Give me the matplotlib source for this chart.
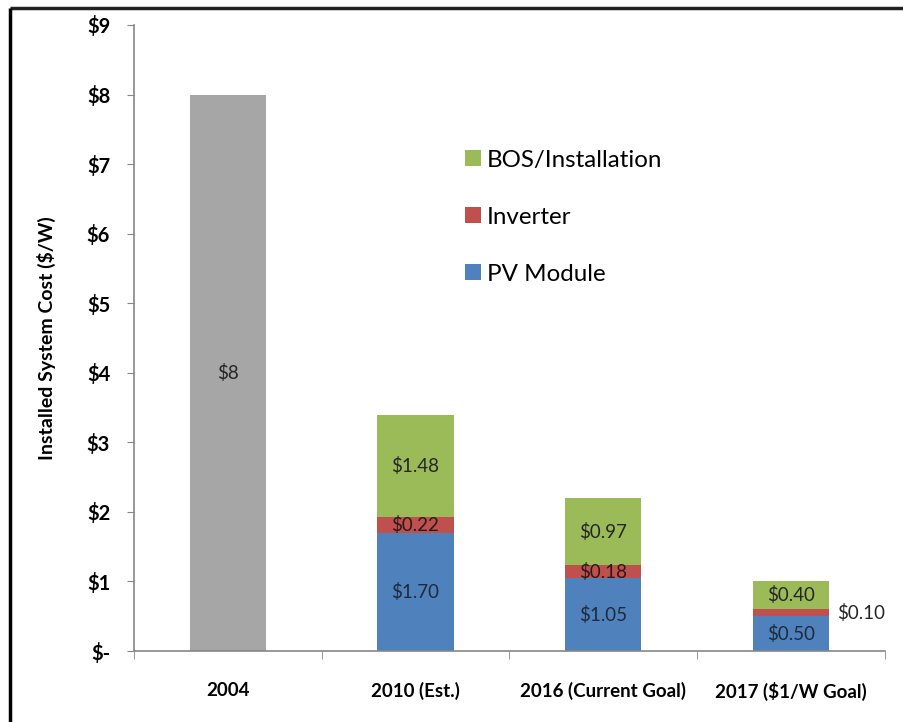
import numpy as np
import matplotlib.pyplot as plt
from matplotlib.lines import Line2D

plt.rcParams['font.family'] = ['Lato', 'DejaVu Sans']

# Datos del gráfico
categorias = ['2004', '2010 (Est.)', '2016 (Current Goal)', '2017 ($1/W Goal)']
total_2004 = [8, 0, 0, 0]
pv_module = [0, 1.70, 1.05, 0.50]
inverter = [0, 0.22, 0.18, 0.10]
bos = [0, 1.48, 0.97, 0.40]
etiquetas_yticks = ['$-', '$1', '$2', '$3', '$4', '$5', '$6', '$7', '$8', '$9']

gris = '#A6A6A6'
azul = '#4F81BD'
rojo = '#C0504D'
verde = '#9BBB59'
eje = '#868686'

fig = plt.figure(figsize=(9.04, 7.22), dpi=100)
ax = fig.add_axes([0.148, 0.0983, 0.831, 0.8671])

x = np.arange(len(categorias))
ancho = 0.405
pv = np.array(pv_module)
inv = np.array(inverter)
bo = np.array(bos)

# Barra gris de 2004 (solo la primera categoría)
ax.bar(x[:1], total_2004[:1], ancho, color=gris)
b_pv = ax.bar(x[1:], pv[1:], ancho, color=azul, label='PV Module')
b_inv = ax.bar(x[1:], inv[1:], ancho, bottom=pv[1:], color=rojo, label='Inverter')
b_bos = ax.bar(x[1:], bo[1:], ancho, bottom=pv[1:] + inv[1:], color=verde,
               label='BOS/Installation')

# Etiquetas de datos
fs = 13.5
ax.text(x[0], total_2004[0] / 2, '$%d' % total_2004[0], ha='center', va='center',
        fontsize=fs, color='#262626')
for i in range(1, len(categorias)):
    ax.text(x[i], pv[i] / 2, '$%.2f' % pv[i], ha='center', va='center',
            fontsize=fs, color='#1F2A3A')
    if i < 3:
        ax.text(x[i], pv[i] + inv[i] / 2, '$%.2f' % inv[i], ha='center',
                va='center', fontsize=fs, color='#2A1A1A')
    else:
        ax.text(x[i] + ancho / 2 + 0.04, pv[i] + inv[i] / 2, '$%.2f' % inv[i],
                ha='left', va='center', fontsize=fs, color='#262626')
    ax.text(x[i], pv[i] + inv[i] + bo[i] / 2, '$%.2f' % bo[i], ha='center',
            va='center', fontsize=fs, color='#262626')

# Ejes
ax.set_xlim(-0.5, len(categorias) - 0.5)
ax.set_ylim(0, 9)
ax.set_yticks(range(10))
ax.set_yticklabels(etiquetas_yticks, fontsize=14.5, fontweight='bold')
ax.set_xticks(x)
ax.set_xticklabels(categorias, fontsize=13.5, fontweight='bold')
ax.set_xticks(np.arange(len(categorias) + 1) - 0.5, minor=True)
ax.tick_params(axis='x', which='major', length=0, pad=22)
ax.tick_params(axis='x', which='minor', length=6, color=eje, direction='out')
ax.tick_params(axis='y', length=5, color=eje, direction='out', pad=12)
for s in ['top', 'right']:
    ax.spines[s].set_visible(False)
for s in ['left', 'bottom']:
    ax.spines[s].set_color(eje)
    ax.spines[s].set_linewidth(1.2)
ax.set_ylabel('Installed System Cost ($/W)', fontsize=14, fontweight='bold',
              labelpad=22)

# Leyenda
ax.legend(handles=[b_bos, b_inv, b_pv], loc='upper left',
          bbox_to_anchor=(0.490, 0.823), bbox_transform=fig.transFigure,
          frameon=False, fontsize=17.4, handlelength=0.66, handleheight=0.66,
          handletextpad=0.25, labelspacing=1.49)

# Marco de la imagen
fig.add_artist(Line2D([10 / 904, 1], [1 - 8 / 722, 1 - 8 / 722],
                      transform=fig.transFigure, color='#222222', lw=2.5,
                      solid_capstyle='butt'))
fig.add_artist(Line2D([10 / 904, 10 / 904], [0, 1 - 8 / 722],
                      transform=fig.transFigure, color='black', lw=2.5,
                      solid_capstyle='butt'))

fig.savefig('out.png', dpi=100)
